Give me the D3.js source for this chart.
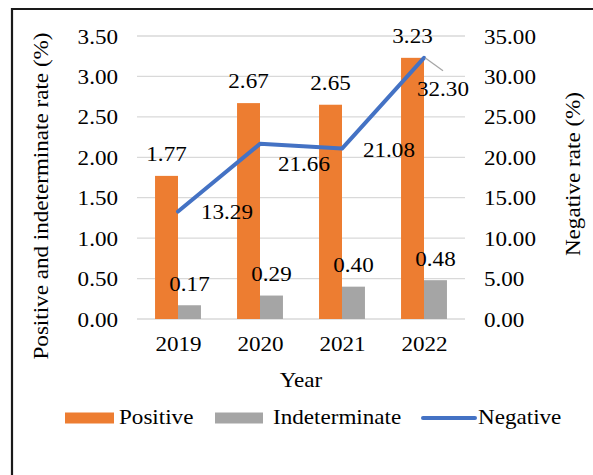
<!DOCTYPE html>
<html>
<head>
<meta charset="utf-8">
<script src="https://cdn.jsdelivr.net/npm/d3@7/dist/d3.min.js"></script>
<style>
  html, body { margin: 0; padding: 0; background: #fff; }
  svg text { font-family: "Liberation Serif", "Times New Roman", serif; fill: #000; }
</style>
</head>
<body>
<svg id="chart" width="593" height="475"></svg>
<script>
const years = ["2019", "2020", "2021", "2022"];
const positive = [1.77, 2.67, 2.65, 3.23];
const indeterminate = [0.17, 0.29, 0.40, 0.48];
const negative = [13.29, 21.66, 21.08, 32.30];
const leftTicks = [0, 0.5, 1, 1.5, 2, 2.5, 3, 3.5];
const rightTicks = [0, 5, 10, 15, 20, 25, 30, 35];
const seriesNames = ["Positive", "Indeterminate", "Negative"];
const colors = { Positive: "#ED7D31", Indeterminate: "#A5A5A5", Negative: "#4472C4" };

const svg = d3.select("#chart");
const W = 593, H = 475;
const plot = { left: 137, right: 465, top: 36, bottom: 319 };
const FS = 22;
const SX = 1.05;

function hstretch(sel) {
  sel.each(function () {
    const t = d3.select(this);
    const x = +t.attr("x") || 0, y = +t.attr("y") || 0;
    t.attr("x", 0).attr("y", 0).attr("transform", `translate(${x},${y}) scale(${SX},1)`);
  });
  return sel;
}

// frame
svg.append("line").attr("x1", 12).attr("x2", 12).attr("y1", 8).attr("y2", H)
  .attr("stroke", "#1a1a1a").attr("stroke-width", 2.2);
svg.append("line").attr("x1", 11).attr("x2", W).attr("y1", 9).attr("y2", 9)
  .attr("stroke", "#1a1a1a").attr("stroke-width", 2.2);

const x = d3.scaleBand().domain(years).range([plot.left, plot.right])
  .paddingInner(0.44).paddingOuter(0.22);
const xc = d3.scalePoint().domain(years).range([plot.left, plot.right]).padding(0.5);
const yL = d3.scaleLinear().domain([0, 3.5]).range([plot.bottom, plot.top]);
const yR = d3.scaleLinear().domain([0, 35]).range([plot.bottom, plot.top]);
const sub = d3.scaleBand().domain(["Positive", "Indeterminate"]).range([0, x.bandwidth()]);

// gridlines
svg.append("g").selectAll("line").data(leftTicks).join("line")
  .attr("x1", plot.left).attr("x2", plot.right)
  .attr("y1", d => yL(d)).attr("y2", d => yL(d))
  .attr("stroke", "#D9D9D9").attr("stroke-width", 1.3);

// left axis
const gL = svg.append("g").attr("transform", `translate(${plot.left - 19},0)`)
  .call(d3.axisLeft(yL).tickValues(leftTicks).tickFormat(d3.format(".2f")).tickSize(0).tickPadding(0));
gL.select(".domain").remove();
hstretch(gL.selectAll("text").attr("font-size", FS).attr("font-family", "Liberation Serif").attr("fill", "#000"));

// right axis
const gR = svg.append("g").attr("transform", `translate(${plot.right + 19},0)`)
  .call(d3.axisRight(yR).tickValues(rightTicks).tickFormat(d3.format(".2f")).tickSize(0).tickPadding(0));
gR.select(".domain").remove();
hstretch(gR.selectAll("text").attr("font-size", FS).attr("font-family", "Liberation Serif").attr("fill", "#000"));

// bottom axis labels
const gB = svg.append("g").attr("transform", `translate(0,${plot.bottom + 16})`)
  .call(d3.axisBottom(xc).tickSize(0).tickPadding(0));
gB.select(".domain").remove();
hstretch(gB.selectAll("text").attr("font-size", FS).attr("font-family", "Liberation Serif").attr("fill", "#000"));

// bars
const rows = years.map((y, i) => ({ year: y, Positive: positive[i], Indeterminate: indeterminate[i] }));
const groups = svg.append("g").selectAll("g").data(rows).join("g")
  .attr("transform", d => `translate(${x(d.year)},0)`);
groups.selectAll("rect").data(d => ["Positive", "Indeterminate"].map(k => ({ k, v: d[k] }))).join("rect")
  .attr("x", d => sub(d.k)).attr("width", sub.bandwidth())
  .attr("y", d => yL(d.v)).attr("height", d => yL(0) - yL(d.v))
  .attr("fill", d => colors[d.k]);

// bar labels
hstretch(groups.selectAll("text").data(d => ["Positive", "Indeterminate"].map(k => ({ k, v: d[k] }))).join("text")
  .attr("x", d => sub(d.k) + sub.bandwidth() / 2)
  .attr("y", d => yL(d.v) - 22)
  .attr("text-anchor", "middle").attr("dominant-baseline", "central")
  .attr("font-size", FS)
  .text(d => d3.format(".2f")(d.v)));

// negative line
const line = d3.line().x((d, i) => xc(years[i])).y(d => yR(d));
svg.append("path").datum(negative).attr("d", line)
  .attr("fill", "none").attr("stroke", colors.Negative).attr("stroke-width", 4)
  .attr("stroke-linejoin", "round").attr("stroke-linecap", "round");

// line labels (layout nudges)
const nudge = [[23, 0], [18, 20], [21, 1.5], [-7, 31]];
hstretch(svg.append("g").selectAll("text").data(negative).join("text")
  .attr("x", (d, i) => xc(years[i]) + nudge[i][0])
  .attr("y", (d, i) => yR(d) + nudge[i][1])
  .attr("dominant-baseline", "central").attr("font-size", FS)
  .text(d => d3.format(".2f")(d)));
// leader line for last label
svg.append("line")
  .attr("x1", xc(years[3]) + 1).attr("y1", yR(negative[3]))
  .attr("x2", xc(years[3]) + 19).attr("y2", yR(negative[3]) + 13)
  .attr("stroke", "#A6A6A6").attr("stroke-width", 1.3);

// axis titles
svg.append("text").attr("transform", `translate(41,${196}) rotate(-90) scale(${SX},1)`)
  .attr("text-anchor", "middle").attr("dominant-baseline", "central")
  .attr("font-size", FS).text("Positive and indeterminate rate (%)");
svg.append("text").attr("transform", `translate(573,${174}) rotate(-90) scale(${SX},1)`)
  .attr("text-anchor", "middle").attr("dominant-baseline", "central")
  .attr("font-size", FS).text("Negative rate (%)");
hstretch(svg.append("text").attr("x", 301).attr("y", 380)
  .attr("text-anchor", "middle").attr("dominant-baseline", "central")
  .attr("font-size", FS).text("Year"));

// legend
const legY = 418;
const leg = [
  { name: seriesNames[0], sx: 65, sw: 49, tx: 119 },
  { name: seriesNames[1], sx: 215, sw: 48, tx: 273 },
  { name: seriesNames[2], sx: 423, sw: 52, tx: 478 }
];
leg.forEach(l => {
  if (l.name === "Negative") {
    svg.append("line").attr("x1", l.sx).attr("x2", l.sx + l.sw).attr("y1", legY).attr("y2", legY)
      .attr("stroke", colors[l.name]).attr("stroke-width", 4).attr("stroke-linecap", "round");
  } else {
    svg.append("rect").attr("x", l.sx).attr("y", legY - 5.5).attr("width", l.sw).attr("height", 11)
      .attr("fill", colors[l.name]);
  }
  hstretch(svg.append("text").attr("x", l.tx).attr("y", legY - 1).attr("dominant-baseline", "central")
    .attr("font-size", FS).text(l.name));
});
</script>
</body>
</html>
